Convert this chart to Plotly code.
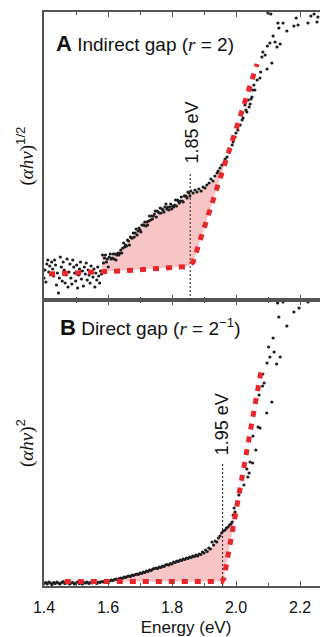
import numpy as np
import plotly.graph_objects as go

# ---------------- data (arbitrary intensity units) ----------------
# Panel A: (alpha h nu)^(1/2) vs photon energy
top_E_noise = [1.400, 1.403, 1.406, 1.409, 1.412, 1.415, 1.418, 1.421, 1.424, 1.427,
               1.430, 1.433, 1.436, 1.439, 1.442, 1.445, 1.448, 1.451, 1.454, 1.457,
               1.460, 1.463, 1.466, 1.469, 1.472, 1.475, 1.478, 1.481, 1.484, 1.487,
               1.490, 1.493, 1.496, 1.499, 1.502, 1.505, 1.508, 1.511, 1.514, 1.517,
               1.520, 1.523, 1.526, 1.529, 1.532, 1.535, 1.538, 1.541, 1.544, 1.547,
               1.550, 1.553, 1.556, 1.559, 1.562, 1.565, 1.568, 1.571, 1.574, 1.577, 1.580]
top_v_noise = [22, 30, 18, 36, 40, 28, 34, 26, 38, 31,
               24, 40, 35, 15, 27, 7, 22, 43, 33, 19,
               38, 30, 17, 25, 41, 13, 28, 36, 22, 16,
               40, 33, 27, 19, 35, 12, 25, 31, 38, 21,
               29, 14, 33, 26, 37, 20, 30, 25, 17, 34,
               28, 23, 31, 13, 27, 20, 33, 24, 17, 29, 26]
top_E_rise = [1.583, 1.586, 1.589, 1.592, 1.595, 1.598, 1.601, 1.604, 1.607, 1.610,
              1.613, 1.616, 1.619, 1.622, 1.625, 1.628, 1.631, 1.634, 1.637, 1.640,
              1.643, 1.646, 1.649, 1.652, 1.655, 1.658, 1.661, 1.664, 1.667, 1.670,
              1.673, 1.676, 1.679, 1.682, 1.685, 1.688, 1.691, 1.694, 1.697, 1.700,
              1.703, 1.706, 1.709, 1.712, 1.715, 1.718, 1.721, 1.724, 1.727, 1.730,
              1.733, 1.736, 1.739, 1.742, 1.745, 1.748, 1.751, 1.754, 1.757, 1.760,
              1.763, 1.766, 1.769, 1.772, 1.775, 1.778, 1.781, 1.784, 1.787, 1.790,
              1.793, 1.796, 1.799, 1.802, 1.805, 1.808, 1.811, 1.814, 1.817, 1.820,
              1.823, 1.826, 1.829, 1.832, 1.835, 1.838, 1.841, 1.844, 1.847, 1.850,
              1.853, 1.856, 1.859]
top_v_rise = [45, 37, 42, 45, 38, 41, 33, 43, 46, 41,
              42, 46, 41, 46, 40, 45, 47, 45, 47, 50,
              47, 52, 57, 53, 55, 54, 60, 59, 55, 63,
              62, 62, 67, 63, 67, 71, 65, 69, 72, 70,
              68, 75, 75, 75, 78, 74, 78, 75, 79, 84,
              80, 84, 81, 84, 86, 89, 83, 89, 88, 87,
              92, 87, 91, 90, 88, 93, 96, 91, 93, 90,
              93, 96, 91, 94, 93, 95, 100, 94, 100, 99,
              97, 99, 103, 99, 98, 104, 104, 104, 102, 108,
              107, 104, 109]
top_E_edge = [1.866, 1.872, 1.878, 1.884, 1.891, 1.897, 1.903, 1.909, 1.916, 1.922,
              1.928, 1.934, 1.941, 1.944, 1.950, 1.956, 1.963, 1.966, 1.972, 1.978,
              1.981, 1.988, 1.991, 1.997, 2.000, 2.006, 2.013, 2.019, 2.022, 2.028,
              2.031, 2.034, 2.038, 2.041, 2.044, 2.047, 2.050, 2.052, 2.056, 2.059,
              2.066, 2.075, 2.077, 2.081, 2.084, 2.091, 2.097, 2.098, 2.100, 2.106,
              2.109, 2.112, 2.116, 2.122, 2.128, 2.131, 2.134, 2.138, 2.147, 2.159,
              2.181, 2.188, 2.194, 2.225, 2.234, 2.244, 2.253, 2.256]
top_v_edge = [107, 110, 108, 111, 109, 113, 112, 115, 117, 121,
              119, 124, 127, 129, 132, 135, 138, 141, 143, 148,
              150, 155, 158, 163, 167, 170, 175, 180, 182, 195,
              190, 188, 200, 193, 196, 201, 203, 210, 215, 210,
              220, 222, 228, 243, 248, 245, 231, 254, 287, 257,
              286, 237, 264, 258, 253, 277, 272, 256, 277, 269,
              274, 282, 275, 277, 284, 286, 278, 283]
top_fit_E = [1.416, 1.638, 1.850, 1.866, 2.066]
top_fit_v = [26, 29, 33.5, 38, 236]
top_area_E = [1.581, 1.606, 1.622, 1.638, 1.653, 1.669, 1.700, 1.731, 1.763,
              1.794, 1.825, 1.856, 1.888, 1.909, 1.928, 1.944, 1.956, 1.969]
top_area_v = [44, 42, 45, 47, 54, 60, 71, 80, 88,
              92, 98, 106, 109, 113, 119, 127, 134, 142]
top_gap = 1.857
top_gap_label = "1.85 eV"

# Panel B: (alpha h nu)^2 vs photon energy
bot_E_low = [round(1.400 + 0.005 * i, 3) for i in range(112)]
bot_v_low = [2.5, 3.5, 2, 4, 3, 1.5, 3.5, 2.5, 4, 3,
             2, 3.5, 4.5, 2.5, 3, 4, 2, 3, 3.5, 2,
             3, 4, 2.5, 3, 2, 3.5, 3, 4, 2.5, 3.5,
             3, 4, 3.5, 2.5, 4, 3.5, 4.5, 4, 5, 4.5,
             5.5, 5, 6, 5.5, 6.5, 7, 6.5, 7.5, 8, 7.5,
             9, 8.5, 9.5, 10, 9.5, 11, 10.5, 11.5, 12, 11.5,
             13, 12.5, 14, 13.5, 15, 14.5, 16, 15.5, 17, 17.5,
             18, 17.5, 19, 18.5, 20, 19.5, 21, 21.5, 21, 22.5,
             22, 24, 23.5, 25, 24.5, 26, 25.5, 27, 26.5, 28,
             27.5, 29, 28.5, 30, 29.5, 31, 30, 32, 31.5, 34,
             33, 36, 34.5, 38, 37, 44, 41, 45, 44, 48,
             50, 53]
bot_E_edge = [1.960, 1.966, 1.970, 1.975, 1.980, 1.984, 1.988, 1.991, 1.994, 1.997,
              2.003, 2.009, 2.013, 2.025, 2.034, 2.037, 2.041, 2.044, 2.053, 2.052,
              2.062, 2.069, 2.075, 2.072, 2.083, 2.088, 2.084, 2.096, 2.112, 2.127,
              2.097, 2.106, 2.138, 2.119, 2.102, 2.116, 2.159, 2.134, 2.181, 2.197,
              2.130, 2.147, 2.225]
bot_v_edge = [55, 56, 58, 59, 61, 62, 64, 71, 78, 74,
              81, 91, 96, 101, 117, 109, 113, 124, 150, 123,
              136, 159, 158, 191, 200, 203, 212, 173, 184, 222,
              223, 229, 229, 234, 239, 248, 260, 269, 274, 278,
              283, 284, 284]
bot_fit_E = [1.465, 1.956, 1.9625, 2.078]
bot_fit_v = [4.5, 4.5, 8, 214]
bot_area_E = [1.590, 1.625, 1.650, 1.700, 1.750, 1.800, 1.850, 1.900, 1.920,
              1.935, 1.950, 1.965, 1.980, 1.990, 2.000]
bot_area_v = [4.5, 6.5, 8.5, 12.5, 17.5, 22.5, 27.5, 33, 37,
              44, 50, 56, 61, 67, 76]
bot_gap = 1.958
bot_gap_label = "1.95 eV"

x_range = [1.4, 2.2875]
tick_vals = [1.4, 1.6, 1.8, 2.0, 2.2]
tick_text = ["1.4", "1.6", "1.8", "2.0", "2.2"]
minor_vals = [1.5, 1.7, 1.9, 2.1]
top_range = [0, 288]
bot_range = [0, 286]

# ---------------- styling ----------------
SANS = "Liberation Sans, Arial, Helvetica, sans-serif"
AX = "#555555"
PINK = "#f7c5c6"
RED = "#e8262b"
DOT = "#1e1e1e"


def area_polygon(up_E, up_v, fit_E, fit_v):
    e0, e1 = up_E[0], up_E[-1]
    inner = [e for e in fit_E if e0 < e < e1]
    low_E = [e1] + inner[::-1] + [e0]
    low_v = list(np.interp(low_E, fit_E, fit_v))
    return list(up_E) + low_E, list(up_v) + low_v


fig = go.Figure()


def add_panel(xa, ya, pts_E, pts_v, fit_E, fit_v, area_E, area_v, gap, gap_top):
    px, py = area_polygon(area_E, area_v, fit_E, fit_v)
    fig.add_trace(go.Scatter(x=px, y=py, xaxis=xa, yaxis=ya, mode="lines",
                             fill="toself", fillcolor=PINK, line=dict(width=0),
                             hoverinfo="skip"))
    fig.add_trace(go.Scatter(x=[gap, gap], y=[0, gap_top], xaxis=xa, yaxis=ya,
                             mode="lines", line=dict(color="#333333", width=1.1, dash="2px,2px"),
                             hoverinfo="skip"))
    fig.add_trace(go.Scatter(x=pts_E, y=pts_v, xaxis=xa, yaxis=ya, mode="markers",
                             marker=dict(size=3.2, color=DOT, line=dict(width=0))))
    fig.add_trace(go.Scatter(x=fit_E, y=fit_v, xaxis=xa, yaxis=ya, mode="lines",
                             line=dict(color=RED, width=5, dash="6px,7px")))


add_panel("x2", "y2", top_E_noise + top_E_rise + top_E_edge,
          top_v_noise + top_v_rise + top_v_edge,
          top_fit_E, top_fit_v, top_area_E, top_area_v, top_gap, 128)
add_panel("x", "y", bot_E_low + bot_E_edge, bot_v_low + bot_v_edge,
          bot_fit_E, bot_fit_v, bot_area_E, bot_area_v, bot_gap, 124)

split = 286 / 574

xcommon = dict(range=x_range, tickmode="array", tickvals=tick_vals, ticktext=tick_text,
               ticks="inside", ticklen=5, tickwidth=1.4, tickcolor=AX,
               showline=True, linecolor=AX, linewidth=1.6, mirror="ticks",
               showgrid=False, zeroline=False,
               minor=dict(tickmode="array", tickvals=minor_vals, ticks="inside",
                          ticklen=3, tickwidth=1.4, tickcolor=AX, showgrid=False))
ycommon = dict(showline=True, linecolor=AX, linewidth=1.6, ticks="",
               showticklabels=False, showgrid=False, zeroline=False)

YT_TOP = ("<span style=\"font-family:'Liberation Serif'\">(<i>\u03b1h\u03bd</i>)</span>"
          "<sup>1/2</sup>")
YT_BOT = ("<span style=\"font-family:'Liberation Serif'\">(<i>\u03b1h\u03bd</i>)</span>"
          "<sup>2</sup>")

# The page body adds an 8 px margin, so the figure is sized to end at the window edge.
fig.update_layout(
    width=320, height=629,
    margin=dict(l=36, r=0, t=4, b=51),
    paper_bgcolor="white", plot_bgcolor="white", showlegend=False,
    font=dict(family=SANS, color="#111111", size=16),
    xaxis=dict(**xcommon, anchor="y",
               tickfont=dict(family=SANS, size=16, color="#111111"),
               ticklabelstandoff=6,
               title=dict(text="Energy (eV)", font=dict(family=SANS, size=17), standoff=9)),
    xaxis2=dict(**xcommon, anchor="y2", matches="x", showticklabels=False),
    yaxis=dict(**ycommon, domain=[0, split], range=bot_range,
               title=dict(text=YT_BOT, font=dict(family=SANS, size=19), standoff=4)),
    yaxis2=dict(**ycommon, domain=[split, 1], range=top_range,
                title=dict(text=YT_TOP, font=dict(family=SANS, size=19), standoff=4)),
)

ann = []
ann.append(dict(xref="x2", yref="y2", x=1.861, y=167, text=top_gap_label, textangle=-90,
                xanchor="center", yanchor="middle",
                showarrow=False, font=dict(family=SANS, size=18)))
ann.append(dict(xref="x", yref="y", x=1.957, y=162, text=bot_gap_label, textangle=-90,
                xanchor="center", yanchor="middle",
                showarrow=False, font=dict(family=SANS, size=18)))
ann.append(dict(xref="paper", yref="paper", x=(54 - 44) / 284, y=(586 - 44) / 574,
                xanchor="left", yanchor="middle", showarrow=False,
                text=("<span style='font-size:22px'><b>A</b></span> Indirect gap ("
                      "<span style=\"font-family:'Liberation Serif'\"><i>r</i></span> = 2)"),
                font=dict(family=SANS, size=19)))
ann.append(dict(xref="paper", yref="paper", x=(58 - 44) / 284, y=(586 - 328) / 574,
                xanchor="left", yanchor="middle", showarrow=False,
                text=("<span style='font-size:22px'><b>B</b></span> Direct gap ("
                      "<span style=\"font-family:'Liberation Serif'\"><i>r</i></span> = 2<sup>\u22121</sup>)"),
                font=dict(family=SANS, size=19)))
fig.update_layout(annotations=ann)

fig.write_html("out.html")
